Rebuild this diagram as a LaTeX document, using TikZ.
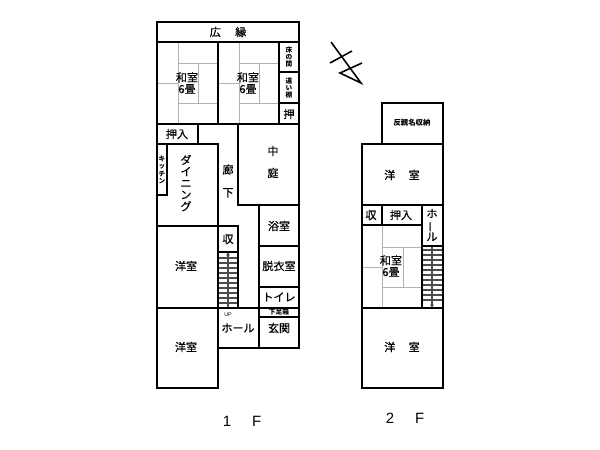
\documentclass[tikz,border=0pt]{standalone}
\usepackage{fontspec}
\usetikzlibrary{arrows.meta}
\setmainfont{Noto Sans CJK JP}
\newfontfamily\labfont[FakeBold=0.6]{Noto Sans CJK JP}
\newfontfamily\latinfont{Liberation Sans}
\tikzset{
  wall/.style={line width=1.5pt},
  tatami/.style={line width=0.5pt, black!30},
  stair/.style={line width=0.6pt, black!70},
  lab/.style={inner sep=0pt, align=center, font=\labfont\fontsize{6.3}{6.6}\selectfont},
  labtight/.style={inner sep=0pt, align=center, font=\labfont\fontsize{6.3}{5.2}\selectfont},
  labsmall/.style={inner sep=0pt, align=center, font=\fontsize{3.8}{4.2}\selectfont\bfseries},
  floorlab/.style={inner sep=0pt, font=\latinfont\fontsize{8.5}{9}\selectfont}
}
\newcommand{\barchar}{\rotatebox[origin=c]{90}{ー}}
\begin{document}
\begin{tikzpicture}[x=0.02cm, y=-0.02cm, >={Stealth[length=2pt,width=2.2pt]}]
  \useasboundingbox (0,0) rectangle (600,450);

  % tatami 1F
  \foreach \dx in {0,61} {
    \draw[tatami, shift={(\dx,0)}] (178,42) -- (178,124);
    \draw[tatami, shift={(\dx,0)}] (178,63) -- (218,63);
    \draw[tatami, shift={(\dx,0)}] (178,103) -- (218,103);
    \draw[tatami, shift={(\dx,0)}] (198,63) -- (198,103);
    \draw[tatami, shift={(\dx,0)}] (157,83) -- (178,83);
  }
  % tatami 2F
  \draw[tatami] (382,225) -- (382,308);
  \draw[tatami] (382,247) -- (422,247);
  \draw[tatami] (382,287) -- (422,287);
  \draw[tatami] (403,247) -- (403,287);
  \draw[tatami] (362,267) -- (382,267);

  % stairs 1F
  \foreach \y in {258,263,268,273,278,283,288,293,298,303} {
    \draw[stair] (218,\y) -- (238,\y);
  }
  \draw[stair, ->] (228,308) -- (228,252);
  % stairs 2F
  \foreach \y in {250,255,260,265,270,275,280,285,290,295,300} {
    \draw[stair] (422,\y) -- (443,\y);
  }
  \draw[stair, ->] (432,246) -- (432,308);

  % walls 1F
  \draw[wall] (157,22) rectangle (299,42);
  \draw[wall] (157,42) rectangle (218,124);
  \draw[wall] (218,42) rectangle (279,124);
  \draw[wall] (279,42) rectangle (299,72);
  \draw[wall] (279,72) rectangle (299,103);
  \draw[wall] (279,103) rectangle (299,124);
  \draw[wall] (157,124) rectangle (198,144);
  \draw[wall] (157,144) rectangle (167,195);
  \draw[wall] (157,144) -- (218,144) -- (218,226);
  \draw[wall] (238,124) -- (238,205) -- (299,205);
  \draw[wall] (299,124) -- (299,348);
  \draw[wall] (157,144) -- (157,226);
  \draw[wall] (157,226) rectangle (218,308);
  \draw[wall] (157,308) rectangle (218,388);
  \draw[wall] (218,226) rectangle (238,252);
  \draw[wall] (218,252) rectangle (238,308);
  \draw[wall] (218,308) rectangle (259,348);
  \draw[wall] (259,205) rectangle (299,246);
  \draw[wall] (259,246) rectangle (299,287);
  \draw[wall] (259,287) rectangle (299,308);
  \draw[wall] (259,308) rectangle (299,317);
  \draw[wall] (259,317) rectangle (299,348);

  % walls 2F
  \draw[wall] (382,103) rectangle (443,144);
  \draw[wall] (362,144) rectangle (443,205);
  \draw[wall] (362,205) rectangle (382,225);
  \draw[wall] (382,205) rectangle (422,225);
  \draw[wall] (422,205) rectangle (443,246);
  \draw[wall] (362,225) rectangle (422,308);
  \draw[wall] (422,246) rectangle (443,308);
  \draw[wall] (362,308) rectangle (443,388);

  % north mark
  \draw[line width=0.9pt] (331,42) -- (361,83) -- (340,73) -- (362,63);
  \draw[line width=0.9pt] (330,63) -- (352,51);

  % labels 1F
  \node[lab] (hiroen) at (228,32) {広\hspace{1.3em}縁};
  \node[labtight] (washitsua) at (187,83) {和室\\6畳};
  \node[labtight] (washitsub) at (248,83) {和室\\6畳};
  \node[labsmall] (tokonoma) at (289,57) {床\\の\\間};
  \node[labsmall] (chigai) at (289,88) {違\\い\\棚};
  \node[lab] (oshi) at (289,114) {押};
  \node[lab] (oshiire) at (177,134) {押入};
  \node[labsmall] (kitchen) at (162,170) {キ\\ッ\\チ\\ン};
  \node[lab] (dining) at (186,183) {ダ\\イ\\ニ\\ン\\グ};
  \node[lab, font=\labfont\fontsize{6.3}{13}\selectfont] (rouka) at (228,181) {廊\\下};
  \node[lab, font=\labfont\fontsize{6.3}{12.5}\selectfont] (nakaniwa) at (273,162) {中\\庭};
  \node[lab] (yokushitsu) at (279,226) {浴室};
  \node[lab] (shuno) at (228,239) {収};
  \node[lab] (youa) at (186,266) {洋室};
  \node[lab] (datsui) at (279,266) {脱衣室};
  \node[lab] (toire) at (279,297) {トイレ};
  \node[labsmall] (geta) at (279,312) {下足箱};
  \node[inner sep=0pt, font=\latinfont\fontsize{3}{3}\selectfont] (up) at (228,315) {UP};
  \node[lab] (hall) at (238,328) {ホール};
  \node[lab] (genkan) at (279,328) {玄関};
  \node[lab] (youb) at (186,347) {洋室};

  % labels 2F
  \node[labsmall, font=\fontsize{4.2}{4.2}\selectfont\bfseries] (nando) at (412,123) {反親名収納};
  \node[lab] (youc) at (402,175) {洋\hspace{1.2em}室};
  \node[lab] (shunob) at (371,215) {収};
  \node[lab] (oshiireb) at (401,215) {押入};
  \node[lab] (hallb) at (432,225) {ホ\\\barchar\\ル};
  \node[labtight] (washitsuc) at (391,266) {和室\\6畳};
  \node[lab] (youd) at (402,347) {洋\hspace{1.2em}室};

  \node[floorlab] (floora) at (242,421) {1\hspace{1.4em}F};
  \node[floorlab] (floorb) at (405,418) {2\hspace{1.4em}F};
\end{tikzpicture}
\end{document}
